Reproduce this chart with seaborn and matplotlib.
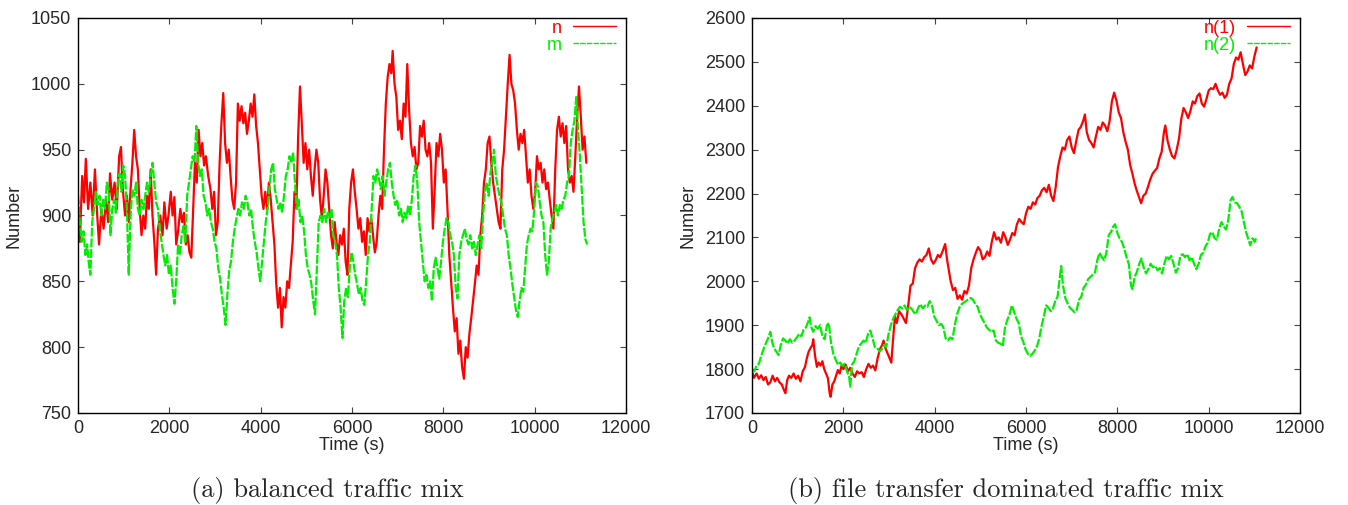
import pandas as pd
import matplotlib
matplotlib.use("Agg")
import matplotlib.pyplot as plt
import seaborn as sns

# ---- data: (time in s, number) ----
# (a) balanced traffic mix, series n
a_n = [(0, 905), (40, 880), (90, 930), (130, 910), (170, 943), (220, 905), (270, 925), (320, 900),
       (370, 935), (420, 900), (460, 878), (510, 905), (560, 890), (610, 912), (660, 895), (700, 932),
       (750, 912), (800, 925), (850, 905), (900, 945), (940, 952), (980, 920), (1030, 900), (1070, 915),
       (1110, 895), (1150, 920), (1190, 940), (1230, 965), (1270, 945), (1310, 935), (1350, 905),
       (1390, 885), (1430, 900), (1470, 890), (1510, 915), (1550, 905), (1590, 935), (1630, 900),
       (1670, 880), (1710, 855), (1750, 890), (1800, 900), (1850, 885), (1890, 910), (1940, 890),
       (1980, 900), (2030, 918), (2070, 900), (2110, 914), (2150, 878), (2190, 888), (2240, 905),
       (2280, 895), (2320, 902), (2360, 878), (2400, 885), (2440, 872), (2480, 868), (2520, 905),
       (2560, 940), (2600, 925), (2640, 965), (2680, 945), (2720, 955), (2760, 938), (2800, 945),
       (2850, 930), (2900, 920), (2940, 905), (2980, 918), (3020, 885), (3060, 895), (3100, 940),
       (3140, 970), (3180, 993), (3220, 955), (3260, 940), (3300, 950), (3340, 930), (3380, 912),
       (3420, 905), (3460, 925), (3500, 985), (3540, 972), (3580, 983), (3620, 970), (3660, 978),
       (3700, 962), (3740, 972), (3780, 985), (3820, 975), (3860, 992), (3900, 968), (3940, 955),
       (3980, 935), (4020, 915), (4060, 905), (4100, 918), (4140, 905), (4180, 925), (4220, 912),
       (4260, 895), (4300, 878), (4340, 848), (4380, 830), (4420, 845), (4460, 815), (4500, 838),
       (4540, 830), (4580, 850), (4620, 845), (4660, 862), (4700, 880), (4740, 918), (4780, 905),
       (4820, 960), (4860, 998), (4900, 970), (4940, 940), (4980, 955), (5020, 935), (5060, 950),
       (5100, 930), (5140, 915), (5180, 935), (5220, 950), (5260, 940), (5300, 912), (5340, 898),
       (5380, 915), (5420, 935), (5460, 925), (5500, 905), (5540, 885), (5580, 875), (5620, 895),
       (5660, 880), (5700, 870), (5740, 885), (5780, 878), (5820, 890), (5860, 865), (5900, 855),
       (5940, 905), (5980, 925), (6020, 935), (6060, 918), (6100, 905), (6140, 890), (6180, 898),
       (6220, 880), (6260, 888), (6300, 870), (6340, 898), (6380, 888), (6420, 898), (6460, 885),
       (6500, 872), (6540, 880), (6580, 900), (6620, 915), (6660, 905), (6700, 950), (6740, 985),
       (6780, 1005), (6820, 1015), (6860, 1008), (6890, 1025), (6930, 1000), (6970, 990), (7010, 965),
       (7050, 972), (7090, 958), (7130, 985), (7170, 975), (7210, 1015), (7250, 980), (7290, 955),
       (7330, 945), (7370, 952), (7410, 935), (7450, 940), (7490, 968), (7530, 960), (7570, 972),
       (7610, 950), (7650, 945), (7690, 955), (7730, 940), (7770, 890), (7810, 920), (7850, 955),
       (7890, 945), (7930, 962), (7970, 950), (8010, 925), (8050, 935), (8090, 905), (8130, 870),
       (8170, 850), (8210, 830), (8250, 812), (8290, 822), (8330, 795), (8370, 805), (8410, 785),
       (8450, 776), (8490, 800), (8530, 792), (8570, 810), (8610, 822), (8650, 835), (8690, 848),
       (8730, 862), (8770, 855), (8810, 885), (8850, 900), (8890, 925), (8930, 935), (8970, 955),
       (9010, 960), (9050, 940), (9090, 925), (9130, 915), (9170, 905), (9210, 895), (9250, 890),
       (9290, 935), (9330, 950), (9370, 975), (9410, 1000), (9450, 1022), (9490, 1000), (9530, 995),
       (9570, 985), (9610, 965), (9650, 950), (9690, 962), (9730, 955), (9770, 965), (9810, 945),
       (9850, 925), (9890, 935), (9930, 915), (9970, 905), (10010, 918), (10050, 945), (10090, 935),
       (10130, 940), (10170, 925), (10210, 935), (10250, 920), (10290, 925), (10330, 912),
       (10370, 900), (10410, 890), (10450, 935), (10490, 965), (10530, 975), (10570, 960),
       (10610, 970), (10650, 955), (10690, 968), (10730, 935), (10770, 925), (10810, 930),
       (10850, 918), (10890, 945), (10930, 975), (10970, 998), (11010, 975), (11050, 950),
       (11090, 960), (11130, 940)]

# (a) balanced traffic mix, series m
a_m = [(0, 915), (40, 895), (80, 880), (120, 888), (160, 870), (200, 878), (240, 862), (270, 855),
       (310, 895), (350, 905), (390, 918), (430, 908), (470, 915), (510, 900), (550, 912), (590, 905),
       (630, 925), (670, 920), (710, 885), (750, 905), (790, 912), (830, 902), (870, 925), (910, 932),
       (950, 918), (990, 938), (1030, 930), (1070, 905), (1110, 855), (1150, 900), (1190, 920),
       (1230, 915), (1270, 925), (1310, 905), (1350, 900), (1390, 912), (1430, 905), (1470, 915),
       (1510, 925), (1550, 918), (1590, 930), (1630, 940), (1670, 925), (1710, 910), (1750, 905),
       (1790, 890), (1830, 880), (1870, 870), (1910, 862), (1950, 870), (1990, 855), (2030, 862),
       (2070, 845), (2110, 833), (2150, 850), (2190, 878), (2230, 870), (2270, 885), (2310, 892),
       (2350, 880), (2390, 915), (2430, 925), (2470, 935), (2510, 945), (2550, 940), (2590, 968),
       (2630, 940), (2670, 930), (2710, 935), (2750, 915), (2790, 910), (2830, 900), (2870, 905),
       (2910, 895), (2950, 890), (2990, 880), (3030, 875), (3070, 860), (3110, 852), (3150, 840),
       (3190, 830), (3230, 817), (3270, 840), (3310, 858), (3350, 865), (3390, 880), (3430, 890),
       (3470, 898), (3510, 905), (3550, 900), (3590, 910), (3630, 905), (3670, 915), (3710, 910),
       (3750, 900), (3790, 905), (3830, 890), (3870, 880), (3910, 872), (3950, 860), (3990, 850),
       (4030, 865), (4070, 880), (4110, 895), (4150, 905), (4190, 920), (4230, 935), (4270, 940),
       (4310, 920), (4350, 912), (4390, 905), (4430, 910), (4470, 902), (4510, 915), (4550, 930),
       (4590, 935), (4630, 945), (4670, 940), (4710, 948), (4750, 925), (4790, 905), (4830, 912),
       (4870, 895), (4910, 900), (4950, 888), (4990, 870), (5030, 860), (5070, 855), (5110, 848),
       (5150, 835), (5190, 825), (5230, 860), (5270, 895), (5310, 900), (5350, 895), (5390, 905),
       (5430, 895), (5470, 902), (5510, 898), (5550, 905), (5590, 885), (5630, 880), (5670, 870),
       (5710, 845), (5750, 830), (5790, 807), (5830, 835), (5870, 845), (5910, 838), (5950, 860),
       (5990, 872), (6030, 865), (6070, 855), (6110, 848), (6150, 840), (6190, 845), (6230, 835),
       (6270, 832), (6310, 850), (6350, 870), (6390, 880), (6430, 905), (6470, 930), (6510, 925),
       (6550, 935), (6590, 928), (6630, 920), (6670, 930), (6710, 915), (6750, 925), (6790, 935),
       (6830, 940), (6870, 925), (6910, 915), (6950, 908), (6990, 912), (7030, 900), (7070, 905),
       (7110, 895), (7150, 902), (7190, 898), (7230, 908), (7270, 900), (7310, 912), (7350, 930),
       (7390, 938), (7430, 925), (7470, 895), (7510, 880), (7550, 865), (7590, 850), (7630, 855),
       (7670, 845), (7710, 850), (7750, 835), (7790, 860), (7830, 868), (7870, 860), (7910, 852),
       (7950, 865), (7990, 880), (8030, 890), (8070, 898), (8110, 895), (8150, 885), (8190, 880),
       (8230, 870), (8270, 845), (8310, 837), (8350, 870), (8390, 880), (8430, 885), (8470, 890),
       (8510, 882), (8550, 878), (8590, 885), (8630, 875), (8670, 880), (8710, 870), (8750, 878),
       (8790, 885), (8830, 875), (8870, 900), (8910, 918), (8950, 925), (8990, 915), (9030, 932),
       (9070, 940), (9110, 950), (9150, 930), (9190, 922), (9230, 915), (9270, 910), (9310, 900),
       (9350, 890), (9390, 885), (9430, 870), (9470, 860), (9510, 848), (9550, 838), (9590, 828),
       (9630, 823), (9670, 835), (9710, 845), (9750, 842), (9790, 860), (9830, 878), (9870, 885),
       (9910, 890), (9950, 888), (9990, 905), (10030, 925), (10070, 922), (10110, 910), (10150, 900),
       (10190, 895), (10230, 870), (10270, 855), (10310, 865), (10350, 890), (10390, 898),
       (10430, 902), (10470, 908), (10510, 900), (10550, 908), (10590, 905), (10630, 912),
       (10670, 915), (10710, 925), (10750, 930), (10790, 955), (10830, 965), (10870, 972),
       (10910, 990), (10950, 965), (10990, 945), (11030, 920), (11070, 895), (11110, 882),
       (11150, 878)]

# (b) file transfer dominated traffic mix, series n(1)
b_n1 = [(0, 1795), (40, 1780), (100, 1790), (150, 1778), (200, 1786), (250, 1775), (300, 1782),
        (350, 1765), (400, 1770), (450, 1785), (500, 1772), (550, 1780), (600, 1770), (650, 1765),
        (700, 1752), (730, 1745), (770, 1775), (810, 1785), (860, 1780), (910, 1790), (960, 1778),
        (1010, 1785), (1060, 1772), (1110, 1795), (1160, 1805), (1200, 1825), (1240, 1840),
        (1280, 1848), (1320, 1855), (1340, 1868), (1380, 1830), (1420, 1805), (1460, 1815),
        (1500, 1808), (1540, 1818), (1580, 1800), (1620, 1790), (1660, 1780), (1700, 1745),
        (1720, 1737), (1760, 1765), (1800, 1772), (1840, 1785), (1880, 1798), (1920, 1790),
        (1960, 1808), (2000, 1800), (2050, 1810), (2100, 1795), (2150, 1803), (2200, 1790),
        (2250, 1782), (2300, 1795), (2350, 1790), (2400, 1793), (2450, 1782), (2500, 1800),
        (2550, 1812), (2600, 1803), (2650, 1808), (2700, 1797), (2750, 1825), (2800, 1845),
        (2850, 1855), (2880, 1865), (2920, 1848), (2970, 1835), (3010, 1825), (3050, 1815),
        (3090, 1870), (3130, 1920), (3170, 1905), (3220, 1932), (3270, 1925), (3320, 1915),
        (3370, 1905), (3420, 1945), (3470, 1990), (3520, 1995), (3570, 2030), (3620, 2043),
        (3670, 2050), (3720, 2045), (3770, 2055), (3820, 2060), (3870, 2075), (3920, 2050),
        (3970, 2040), (4020, 2048), (4070, 2060), (4120, 2055), (4170, 2068), (4230, 2085),
        (4270, 2050), (4310, 2025), (4350, 2000), (4400, 1980), (4450, 1985), (4500, 1960),
        (4550, 1968), (4600, 1958), (4650, 1978), (4700, 1972), (4750, 1990), (4800, 2030),
        (4850, 2050), (4900, 2065), (4950, 2078), (5000, 2070), (5050, 2050), (5100, 2055),
        (5150, 2068), (5200, 2058), (5250, 2090), (5300, 2112), (5350, 2095), (5400, 2100),
        (5450, 2088), (5500, 2112), (5550, 2100), (5600, 2083), (5650, 2095), (5700, 2110),
        (5750, 2105), (5800, 2130), (5850, 2142), (5900, 2135), (5950, 2130), (6000, 2155),
        (6050, 2170), (6100, 2165), (6150, 2180), (6200, 2175), (6250, 2190), (6300, 2195),
        (6350, 2208), (6400, 2213), (6450, 2203), (6500, 2220), (6550, 2195), (6600, 2183),
        (6650, 2215), (6700, 2260), (6750, 2285), (6800, 2305), (6850, 2300), (6900, 2322),
        (6950, 2330), (7000, 2305), (7050, 2292), (7100, 2320), (7150, 2345), (7200, 2352),
        (7250, 2365), (7290, 2380), (7330, 2340), (7380, 2322), (7430, 2315), (7480, 2305),
        (7530, 2330), (7580, 2352), (7630, 2345), (7680, 2362), (7730, 2355), (7780, 2342),
        (7830, 2365), (7880, 2410), (7930, 2430), (7980, 2412), (8030, 2385), (8080, 2372),
        (8130, 2340), (8180, 2318), (8230, 2300), (8280, 2265), (8330, 2245), (8380, 2222),
        (8430, 2205), (8480, 2190), (8520, 2178), (8570, 2195), (8620, 2200), (8670, 2215),
        (8720, 2232), (8770, 2245), (8820, 2252), (8870, 2258), (8920, 2280), (8970, 2295),
        (9020, 2340), (9050, 2355), (9100, 2320), (9150, 2300), (9200, 2285), (9250, 2280),
        (9300, 2300), (9350, 2325), (9400, 2370), (9450, 2395), (9500, 2385), (9550, 2372),
        (9600, 2388), (9650, 2410), (9700, 2405), (9750, 2422), (9800, 2428), (9850, 2405),
        (9900, 2398), (9950, 2415), (10000, 2435), (10050, 2440), (10100, 2438), (10150, 2450),
        (10200, 2435), (10250, 2425), (10300, 2430), (10350, 2418), (10400, 2425), (10450, 2450),
        (10500, 2462), (10550, 2495), (10600, 2510), (10650, 2505), (10700, 2522), (10750, 2495),
        (10800, 2470), (10850, 2478), (10900, 2492), (10950, 2485), (11000, 2512), (11050, 2533)]

# (b) file transfer dominated traffic mix, series n(2)
b_n2 = [(0, 1800), (50, 1795), (100, 1808), (150, 1812), (200, 1830), (250, 1845), (300, 1858),
        (350, 1870), (400, 1885), (440, 1862), (480, 1848), (530, 1840), (580, 1832), (630, 1855),
        (680, 1870), (730, 1865), (780, 1858), (830, 1868), (880, 1860), (930, 1865), (980, 1872),
        (1030, 1880), (1080, 1875), (1130, 1890), (1180, 1895), (1230, 1908), (1260, 1918),
        (1300, 1895), (1340, 1885), (1390, 1898), (1440, 1892), (1490, 1900), (1540, 1875),
        (1590, 1868), (1640, 1900), (1680, 1905), (1730, 1860), (1780, 1835), (1830, 1822),
        (1880, 1810), (1930, 1815), (1980, 1808), (2030, 1812), (2080, 1795), (2130, 1780),
        (2150, 1760), (2190, 1810), (2240, 1818), (2290, 1835), (2340, 1852), (2390, 1858),
        (2440, 1865), (2490, 1860), (2540, 1880), (2590, 1888), (2640, 1870), (2690, 1850),
        (2740, 1848), (2790, 1840), (2840, 1845), (2890, 1855), (2940, 1850), (2990, 1880),
        (3040, 1900), (3090, 1915), (3140, 1925), (3190, 1935), (3240, 1942), (3290, 1938),
        (3340, 1945), (3390, 1935), (3440, 1942), (3490, 1938), (3540, 1930), (3590, 1925),
        (3640, 1940), (3690, 1948), (3740, 1938), (3790, 1945), (3840, 1942), (3890, 1955),
        (3940, 1945), (3990, 1920), (4040, 1910), (4090, 1900), (4140, 1903), (4190, 1895),
        (4240, 1870), (4290, 1865), (4340, 1872), (4390, 1868), (4440, 1900), (4490, 1925),
        (4540, 1940), (4590, 1948), (4640, 1952), (4690, 1955), (4740, 1960), (4790, 1962),
        (4840, 1958), (4890, 1948), (4940, 1942), (4990, 1925), (5040, 1915), (5090, 1905),
        (5140, 1895), (5190, 1890), (5240, 1885), (5290, 1888), (5340, 1865), (5390, 1860),
        (5440, 1858), (5490, 1852), (5540, 1895), (5590, 1912), (5640, 1925), (5690, 1945),
        (5740, 1930), (5790, 1915), (5840, 1905), (5890, 1875), (5940, 1862), (5990, 1845),
        (6040, 1835), (6090, 1830), (6140, 1835), (6190, 1842), (6240, 1852), (6290, 1870),
        (6340, 1898), (6390, 1920), (6440, 1945), (6490, 1940), (6540, 1932), (6590, 1938),
        (6640, 1955), (6690, 1965), (6740, 2010), (6770, 2035), (6810, 1990), (6860, 1962),
        (6910, 1950), (6960, 1940), (7010, 1935), (7060, 1930), (7110, 1935), (7160, 1958),
        (7210, 1965), (7260, 1985), (7310, 1992), (7360, 2005), (7410, 2010), (7460, 2015),
        (7510, 2020), (7560, 2048), (7610, 2065), (7660, 2055), (7710, 2048), (7760, 2065),
        (7810, 2105), (7860, 2112), (7910, 2125), (7950, 2130), (8000, 2110), (8050, 2098),
        (8100, 2090), (8150, 2075), (8200, 2055), (8250, 2040), (8300, 1990), (8330, 1982),
        (8380, 2010), (8430, 2022), (8480, 2040), (8530, 2052), (8580, 2030), (8630, 2018),
        (8680, 2028), (8730, 2040), (8780, 2032), (8830, 2035), (8880, 2025), (8930, 2030),
        (8980, 2018), (9030, 2040), (9080, 2058), (9130, 2050), (9180, 2058), (9230, 2040),
        (9280, 2020), (9330, 2030), (9380, 2058), (9430, 2062), (9480, 2055), (9530, 2062),
        (9580, 2048), (9630, 2055), (9680, 2040), (9730, 2028), (9780, 2040), (9830, 2060),
        (9880, 2065), (9930, 2080), (9980, 2088), (10030, 2108), (10080, 2112), (10130, 2098),
        (10180, 2095), (10230, 2120), (10280, 2135), (10330, 2125), (10380, 2118), (10430, 2140),
        (10480, 2185), (10520, 2192), (10570, 2180), (10620, 2178), (10670, 2170), (10720, 2160),
        (10770, 2135), (10820, 2112), (10870, 2095), (10910, 2082), (10960, 2098), (11010, 2090),
        (11040, 2100)]

RED = "#ff0000"
GREEN = "#00ee00"

sns.set_style("ticks")
plt.rcParams["font.family"] = ["Liberation Sans", "DejaVu Sans"]
plt.rcParams["font.size"] = 13

fig = plt.figure(figsize=(13.48, 5.05), dpi=100)
ax1 = fig.add_axes([0.0579, 0.1822, 0.4065, 0.7822])
ax2 = fig.add_axes([0.5579, 0.1822, 0.4065, 0.7822])

panels = [
    (ax1, a_n, "n", a_m, "m", (750, 1050, 50)),
    (ax2, b_n1, "n(1)", b_n2, "n(2)", (1700, 2600, 100)),
]

for ax, red_pts, red_lbl, green_pts, green_lbl, (lo, hi, step) in panels:
    df_r = pd.DataFrame(red_pts, columns=["time", "number"])
    df_g = pd.DataFrame(green_pts, columns=["time", "number"])
    sns.lineplot(data=df_r, x="time", y="number", ax=ax, color=RED, lw=1.6,
                 label=red_lbl, estimator=None, sort=False)
    sns.lineplot(data=df_g, x="time", y="number", ax=ax, color=GREEN, lw=1.6,
                 label=green_lbl, estimator=None, sort=False,
                 linestyle=(0, (4, 0.8)))

    ax.set_ylim(lo, hi)
    ax.set_yticks(range(lo, hi + 1, step))
    ax.set_xlim(0, 12000)
    ax.set_xticks(range(0, 12001, 2000))
    ax.tick_params(direction="in", top=True, right=True, length=4, width=0.8,
                   labelsize=13, pad=5, color="#444444")
    for s in ax.spines.values():
        s.set_visible(True)
        s.set_linewidth(1.0)
        s.set_color("black")
    ax.set_xlabel("Time (s)", fontsize=13, labelpad=0)
    ax.set_ylabel("Number", fontsize=13, labelpad=6)
    leg = ax.legend(loc="upper right", bbox_to_anchor=(0.985, 1.0), frameon=False,
                    markerfirst=False, labelcolor="linecolor", fontsize=13,
                    handlelength=2.4, handletextpad=0.6, labelspacing=0.0,
                    borderaxespad=0.0, borderpad=0.1)
    for h in leg.get_lines():
        h.set_linewidth(1.0)

fig.text(327 / 1348, 1 - 490 / 505, "(a) balanced traffic mix",
         family="cmr10", fontsize=19, ha="center", va="center")
fig.text(1006 / 1348, 1 - 490 / 505, "(b) file transfer dominated traffic mix",
         family="cmr10", fontsize=19, ha="center", va="center")

fig.savefig("out.png", dpi=100)
